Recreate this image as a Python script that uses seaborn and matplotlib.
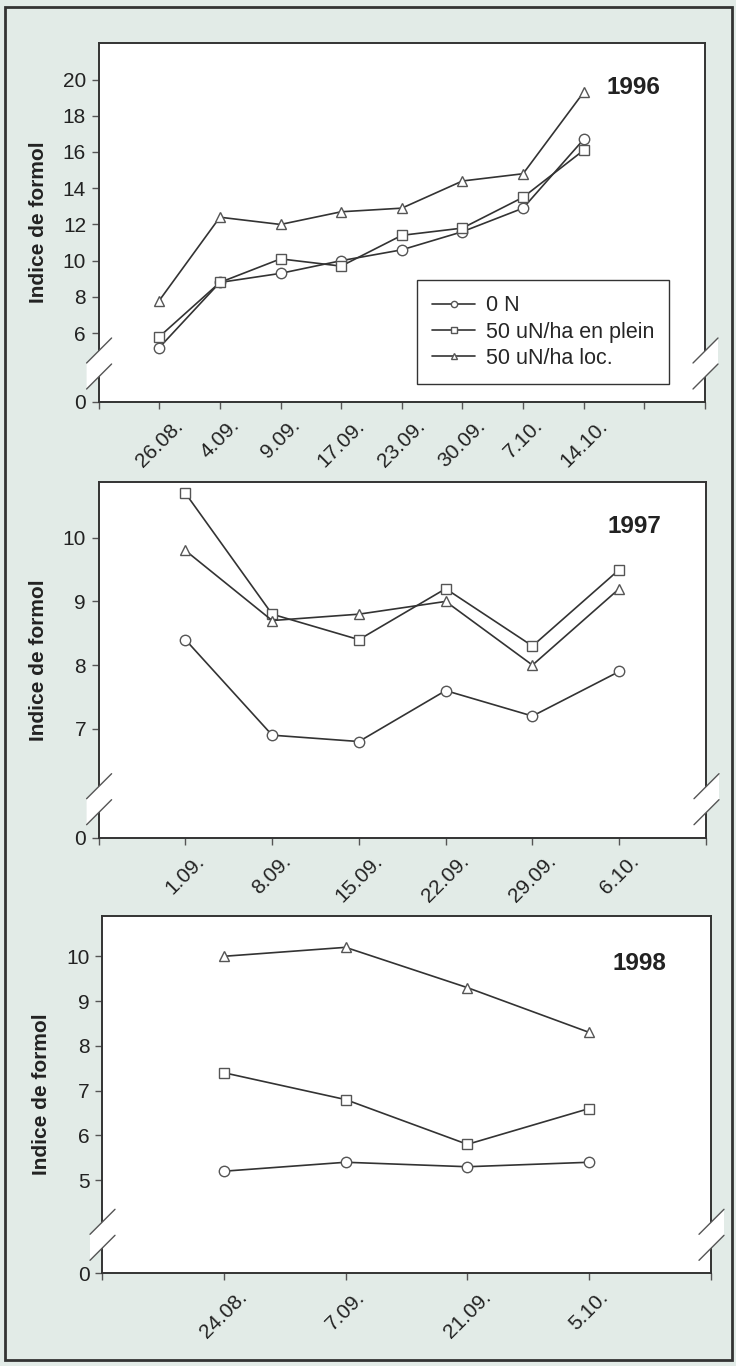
import numpy as np
import pandas as pd
import matplotlib
matplotlib.use("Agg")
import matplotlib.pyplot as plt
import seaborn as sns
from matplotlib import font_manager as fm
from matplotlib.patches import Rectangle, Polygon
from matplotlib.lines import Line2D

# ---------------- data ----------------
SERIES = ["0 N", "50 uN/ha en plein", "50 uN/ha loc."]

DATES_1996 = ["26.08.", "4.09.", "9.09.", "17.09.", "23.09.", "30.09.", "7.10.", "14.10."]
N0_1996 = [5.2, 8.8, 9.3, 10.0, 10.6, 11.6, 12.9, 16.7]
PLEIN_1996 = [5.8, 8.8, 10.1, 9.7, 11.4, 11.8, 13.5, 16.1]
LOC_1996 = [7.8, 12.4, 12.0, 12.7, 12.9, 14.4, 14.8, 19.3]
YTICKS_1996 = [6, 8, 10, 12, 14, 16, 18, 20]

DATES_1997 = ["1.09.", "8.09.", "15.09.", "22.09.", "29.09.", "6.10."]
N0_1997 = [8.4, 6.9, 6.8, 7.6, 7.2, 7.9]
PLEIN_1997 = [10.7, 8.8, 8.4, 9.2, 8.3, 9.5]
LOC_1997 = [9.8, 8.7, 8.8, 9.0, 8.0, 9.2]
YTICKS_1997 = [7, 8, 9, 10]

DATES_1998 = ["24.08.", "7.09.", "21.09.", "5.10."]
N0_1998 = [5.2, 5.4, 5.3, 5.4]
PLEIN_1998 = [7.4, 6.8, 5.8, 6.6]
LOC_1998 = [10.0, 10.2, 9.3, 8.3]
YTICKS_1998 = [5, 6, 7, 8, 9, 10]

YEARS = ["1996", "1997", "1998"]
YLABEL = "Indice de formol"

# ---------------- style ----------------
BG = "#e2ebe7"
LINE = "#333333"
MEC = "#555555"
MARKERS = {SERIES[0]: "o", SERIES[1]: "s", SERIES[2]: "^"}

names = {f.name for f in fm.fontManager.ttflist}
FONT = "Liberation Sans" if "Liberation Sans" in names else "DejaVu Sans"

sns.set_style("white")
plt.rcParams["font.family"] = [FONT, "DejaVu Sans"]

TICK_FS = 15
LEG_FS = 15.5
YEAR_FS = 17.5
YLAB_FS = 15

W, H = 736, 1366
fig = plt.figure(figsize=(W / 100, H / 100), dpi=100, facecolor=BG)


def add_ax(l, t, r, b):
    return fig.add_axes([l / W, 1 - b / H, (r - l) / W, (b - t) / H])


def draw_break(ax):
    bb = ax.get_position()
    y0 = bb.y0 * H
    for xf in (bb.x0, bb.x1):
        x = xf * W
        c_low, c_up = y0 + 25, y0 + 51
        poly = Polygon(
            [((x - 12) / W, (c_low - 12) / H), ((x + 13) / W, (c_low + 13) / H),
             ((x + 13) / W, (c_up + 13) / H), ((x - 12) / W, (c_up - 12) / H)],
            closed=True, transform=fig.transFigure, fc="white", ec="none",
            zorder=5, clip_on=False)
        fig.add_artist(poly)
        for c in (c_low, c_up):
            fig.add_artist(Line2D([(x - 12) / W, (x + 13) / W], [(c - 12) / H, (c + 13) / H],
                                  transform=fig.transFigure, color="#555555", lw=1.0,
                                  zorder=6))


def panel(ax, dates, n0, plein, loc, yticks, zero_pos, ytop, xmax, year, year_y,
          legend=False):
    n = len(dates)
    df = pd.DataFrame({
        "x": np.tile(np.arange(1, n + 1), 3),
        "y": list(n0) + list(plein) + list(loc),
        "serie": np.repeat(SERIES, n),
    })
    sns.lineplot(data=df, x="x", y="y", hue="serie", style="serie",
                 palette={s: LINE for s in SERIES}, markers=MARKERS, dashes=False,
                 markersize=7.5, markerfacecolor="white", markeredgecolor=MEC,
                 markeredgewidth=1.0, linewidth=1.2, legend=False, sort=False, ax=ax)
    ax.set_facecolor("white")
    ax.set_xlim(0, xmax)
    ax.set_xticks(range(0, xmax + 1))
    ax.set_xticklabels([""] + dates + [""] * (xmax - n))
    ax.set_ylim(zero_pos, ytop)
    ax.set_yticks([zero_pos] + yticks)
    ax.set_yticklabels(["0"] + [str(t) for t in yticks])
    ax.tick_params(axis="both", which="major", direction="out", length=5, width=1,
                   color="#555555", labelsize=TICK_FS, labelcolor="#222222",
                   bottom=True, left=True)
    ax.tick_params(axis="x", pad=5)
    ax.tick_params(axis="y", pad=4)
    for lab in ax.get_xticklabels():
        lab.set_rotation(45)
        lab.set_ha("center")
    for sp in ax.spines.values():
        sp.set_color("#333333")
        sp.set_linewidth(1.4)
    ax.set_xlabel("")
    ax.set_ylabel(YLABEL, fontsize=YLAB_FS, fontweight="bold", color="#222222")
    ax.yaxis.set_label_coords(-0.083, 0.5)
    ax.text(0.926, year_y, year, transform=ax.transAxes, ha="right", va="center",
            fontsize=YEAR_FS, fontweight="bold", color="#222222")
    if legend:
        leg = ax.legend(handles=ax.lines[:3], labels=SERIES, loc="lower left",
                        bbox_to_anchor=(0.525, 0.05), borderaxespad=0,
                        fontsize=LEG_FS, frameon=True, fancybox=False,
                        edgecolor="#333333", framealpha=1, markerscale=0.6,
                        handlelength=2.0, handletextpad=0.5, labelspacing=0.25,
                        borderpad=0.7)
        leg.get_frame().set_linewidth(1.0)
    draw_break(ax)


ax1 = add_ax(98.6, 43.3, 705, 402)
panel(ax1, DATES_1996, N0_1996, PLEIN_1996, LOC_1996, YTICKS_1996, 2.2, 22.0, 10,
      YEARS[0], 0.878, legend=True)

ax2 = add_ax(98.6, 481.7, 706, 837.7)
panel(ax2, DATES_1997, N0_1997, PLEIN_1997, LOC_1997, YTICKS_1997, 5.29, 10.88, 7,
      YEARS[1], 0.873)

ax3 = add_ax(102, 916, 711, 1273.3)
panel(ax3, DATES_1998, N0_1998, PLEIN_1998, LOC_1998, YTICKS_1998, 2.92, 10.9, 5,
      YEARS[2], 0.868)

fig.add_artist(Rectangle((5 / W, 1 - 1360 / H), (732 - 5) / W, (1360 - 7) / H,
                         transform=fig.transFigure, fill=False, lw=2, ec="#333333",
                         zorder=10))

fig.savefig("out.png", dpi=100, facecolor=BG)
